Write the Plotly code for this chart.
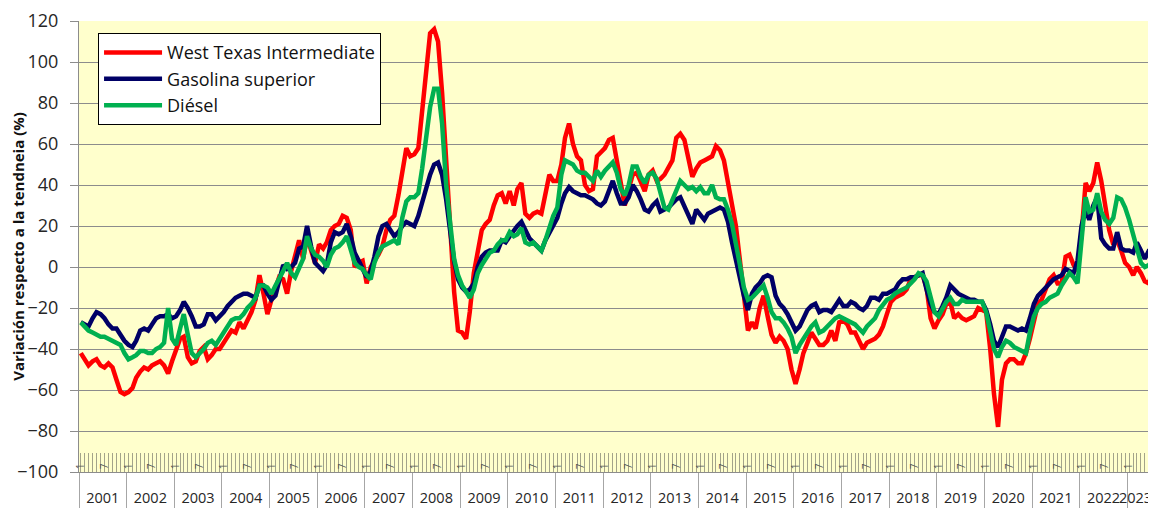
import plotly.graph_objects as go

# ---------------- data (monthly, Jan-2001 .. Jul-2023) ----------------
year_labels = [str(y) for y in range(2001, 2024)]
n_months = 12 * 22 + 7
month_dates = [f"{2001 + i // 12}-{i % 12 + 1:02d}-15" for i in range(n_months)]
month_numbers = [str(i % 12 + 1) for i in range(n_months)]

wti = [
    -42, -45, -48, -46, -45, -48, -49, -47, -49, -55, -61, -62,   # 2001
    -61, -59, -54, -51, -49, -50, -48, -47, -46, -48, -52, -46,   # 2002
    -40, -35, -34, -44, -47, -46, -41, -39, -45, -43, -40, -40,   # 2003
    -37, -34, -31, -32, -27, -30, -26, -22, -16, -4, -13, -23,    # 2004
    -16, -11, -5, -6, -13, -2, 5, 13, 4, 15, 8, 2,                # 2005
    11, 9, 12, 18, 20, 21, 25, 24, 18, 0, 2, 3,                   # 2006
    -8, 0, 3, 6, 10, 18, 23, 25, 35, 45, 58, 54,                  # 2007
    55, 58, 75, 98, 114, 116, 110, 85, 50, 15, -12, -31,          # 2008
    -32, -35, -22, -3, 7, 18, 21, 23, 30, 35, 36, 31,             # 2009
    37, 30, 38, 41, 26, 24, 26, 27, 26, 35, 45, 42,               # 2010
    42, 50, 63, 70, 60, 54, 52, 40, 37, 38, 54, 56,               # 2011
    58, 62, 63, 52, 40, 30, 38, 45, 46, 42, 37, 45,               # 2012
    47, 42, 43, 45, 48, 52, 63, 65, 62, 52, 44, 48,               # 2013
    51, 52, 53, 54, 59, 57, 52, 41, 32, 20, 3, -15,               # 2014
    -31, -27, -30, -20, -14, -24, -33, -37, -34, -36, -40, -50,   # 2015
    -57, -50, -42, -37, -32, -35, -38, -38, -36, -31, -36, -27,   # 2016
    -26, -28, -32, -32, -36, -40, -37, -36, -35, -33, -29, -23,   # 2017
    -17, -15, -14, -13, -11, -6, -5, -4, -4, -10, -25, -30,       # 2018
    -26, -23, -18, -17, -25, -23, -25, -26, -25, -24, -20, -21,   # 2019
    -22, -40, -62, -78, -55, -47, -45, -45, -47, -47, -42, -35,   # 2020
    -27, -18, -16, -11, -6, -4, -8, -8, 5, 6, 1, -2,              # 2021
    16, 41, 37, 41, 51, 42, 30, 18, 11, 13, 8, 2,                 # 2022
    0, -4, 0, -3, -7, -8, -1,                                     # 2023
]

gasolina = [
    -27, -28, -29, -25, -22, -23, -25, -28, -30, -30, -33, -36,   # 2001
    -38, -39, -36, -31, -30, -31, -28, -25, -24, -24, -23, -25,   # 2002
    -24, -21, -17, -20, -24, -29, -29, -28, -23, -23, -26, -24,   # 2003
    -22, -19, -17, -15, -14, -13, -13, -14, -15, -9, -9, -13,     # 2004
    -16, -14, -7, 1, -1, 0, 2, 9, 10, 20, 10, 2,                  # 2005
    0, -2, 1, 12, 17, 16, 17, 21, 15, 7, 3, -1,                   # 2006
    -5, -2, 5, 15, 20, 21, 18, 15, 17, 20, 22, 21,                # 2007
    20, 25, 32, 38, 45, 50, 51, 45, 33, 18, 3, -6,                # 2008
    -10, -12, -11, -8, 0, 5, 7, 8, 8, 8, 13, 12,                  # 2009
    15, 18, 20, 22, 18, 14, 12, 10, 8, 13, 17, 21,                # 2010
    24, 31, 36, 39, 37, 36, 35, 35, 34, 33, 31, 30,               # 2011
    32, 37, 42, 36, 31, 31, 34, 40, 37, 33, 28, 27,               # 2012
    30, 32, 27, 28, 29, 31, 33, 34, 30, 26, 21, 28,               # 2013
    25, 23, 26, 27, 28, 29, 28, 22, 12, 3, -5, -14,               # 2014
    -21, -13, -10, -8, -5, -4, -5, -14, -18, -20, -23, -27,       # 2015
    -31, -29, -25, -21, -19, -18, -22, -21, -21, -22, -19, -16,   # 2016
    -19, -19, -17, -18, -20, -21, -19, -15, -15, -16, -13, -13,   # 2017
    -12, -11, -8, -6, -6, -5, -5, -4, -3, -11, -18, -22,          # 2018
    -23, -19, -15, -9, -11, -13, -14, -15, -16, -16, -17, -17,    # 2019
    -21, -28, -36, -39, -34, -29, -29, -30, -31, -30, -31, -25,   # 2020
    -18, -14, -12, -10, -8, -6, -5, -4, -1, -2, -3, 3,            # 2021
    20, 28, 23, 30, 34, 14, 11, 9, 9, 17, 9, 8,                   # 2022
    8, 7, 12, 8, 4, 8, 9,                                         # 2023
]

diesel = [
    -27, -29, -31, -32, -33, -34, -34, -35, -36, -37, -38, -42,   # 2001
    -45, -44, -43, -41, -41, -42, -42, -40, -39, -37, -20, -35,   # 2002
    -38, -30, -23, -33, -42, -44, -42, -40, -37, -36, -38, -35,   # 2003
    -32, -29, -26, -25, -25, -23, -20, -18, -15, -9, -9, -10,     # 2004
    -13, -9, -6, -2, 2, -3, -5, -1, 4, 15, 9, 6,                  # 2005
    5, 3, 0, 6, 9, 10, 12, 15, 8, 2, 0, -1,                       # 2006
    -4, -6, 2, 7, 10, 11, 12, 13, 11, 24, 32, 34,                 # 2007
    34, 36, 48, 62, 78, 87, 87, 70, 40, 22, 4, -4,                # 2008
    -9, -12, -15, -11, -3, 1, 4, 7, 8, 11, 13, 13,                # 2009
    17, 15, 16, 19, 12, 11, 12, 10, 8, 13, 20, 25,                # 2010
    29, 45, 52, 51, 50, 47, 46, 46, 44, 42, 47, 44,               # 2011
    47, 49, 51, 46, 38, 35, 40, 49, 49, 44, 41, 45,               # 2012
    46, 43, 36, 29, 28, 33, 38, 42, 40, 38, 39, 37,               # 2013
    39, 36, 36, 40, 34, 33, 33, 28, 21, 12, 1, -10,               # 2014
    -16, -15, -13, -11, -9, -15, -22, -25, -25, -27, -30, -34,    # 2015
    -42, -38, -35, -32, -29, -27, -32, -31, -29, -27, -25, -24,   # 2016
    -25, -26, -27, -28, -30, -32, -29, -27, -25, -21, -18, -16,   # 2017
    -15, -13, -12, -11, -10, -8, -6, -3, -4, -7, -15, -22,        # 2018
    -24, -20, -17, -15, -18, -18, -16, -17, -17, -17, -17, -17,   # 2019
    -22, -32, -40, -44, -39, -36, -37, -39, -40, -41, -42, -32,   # 2020
    -24, -20, -18, -17, -15, -14, -13, -9, -6, -3, -5, -8,        # 2021
    13, 34, 27, 28, 36, 27, 23, 21, 24, 34, 33, 29,               # 2022
    23, 15, 9, 2, 0, 1, 3,                                        # 2023
]

series_names = ["West Texas Intermediate", "Gasolina superior", "Diésel"]
series_colors = ["#FF0000", "#000066", "#00B050"]
y_title = "Variación respecto a la tendneia (%)"

# ---------------- derived axis positions ----------------
y_min, y_max = -100, 120
band_top = -90          # month-number band sits between -100 and -90
x_start, x_end = "2001-01-01", "2023-08-01"
year_bounds = [f"{y}-01-01" for y in range(2001, 2024)]
year_centers = [f"{y}-07-02" for y in range(2001, 2023)] + ["2023-03-05"]
half_year_ticks = [d for d, m in zip(month_dates, month_numbers) if m in ("1", "7")]
half_year_text = [m for m in month_numbers if m in ("1", "7")]

FONT = "'Open Sans', Arial, sans-serif"

fig = go.Figure()
for i, (name, vals, col) in enumerate(zip(series_names, [wti, gasolina, diesel], series_colors)):
    fig.add_trace(go.Scatter(
        x=month_dates, y=vals, name=name, mode="lines",
        line=dict(color=col, width=4.5), legendgroup=f"g{i}",
    ))

# helper (empty) trace so the year axis is drawn
fig.add_trace(go.Scatter(x=[], y=[], xaxis="x2", showlegend=False, hoverinfo="skip"))

# The page body adds an 8px margin around the figure, so the figure is
# sized 8px smaller and its left/top margins reduced by 8px.
fig.update_layout(
    width=1148, height=500,
    autosize=False,
    margin=dict(l=71, r=1, t=13, b=36, autoexpand=False),
    paper_bgcolor="white",
    plot_bgcolor="#FFFFCC",
    font=dict(family=FONT, color="#262626"),
    showlegend=True,
    legend=dict(
        x=0.0177, y=0.973, xanchor="left", yanchor="top",
        bgcolor="white", bordercolor="black", borderwidth=1,
        font=dict(size=18, color="#111111"),
        tracegroupgap=0, itemwidth=58,
    ),
    # month numbers: an axis line placed at -90, labels/ticks hanging down into the band
    xaxis=dict(
        type="date", range=[x_start, x_end], automargin=False,
        anchor="free", position=(band_top - y_min) / (y_max - y_min), side="bottom",
        tickmode="array", tickvals=half_year_ticks, ticktext=half_year_text,
        tickangle=-90, ticks="", ticklabelstandoff=9,
        tickfont=dict(size=10, color="#555555"),
        showgrid=False, zeroline=False, showline=False,
        minor=dict(tickmode="array", tickvals=month_dates, ticks="outside",
                   ticklen=19, tickcolor="#A3A38A", tickwidth=1, showgrid=False),
    ),
    # years with dividers, below the plot
    xaxis2=dict(
        type="date", range=[x_start, x_end], overlaying="x", anchor="y", side="bottom",
        automargin=False, ticklabeloverflow="allow", tickangle=0,
        tickmode="array", tickvals=year_centers, ticktext=year_labels,
        ticks="outside", ticklen=13, tickcolor="rgba(0,0,0,0)",
        tickfont=dict(size=14.5, color="#262626"),
        showgrid=False, zeroline=False,
        showline=True, linecolor="#8C8C8C", linewidth=1,
        minor=dict(tickmode="array", tickvals=year_bounds, ticks="outside",
                   ticklen=36, tickcolor="#A6A6A6", tickwidth=1, showgrid=False),
    ),
    yaxis=dict(
        range=[y_min, y_max], dtick=20, tick0=0, automargin=False,
        showgrid=True, gridcolor="#8C8C8C", gridwidth=1,
        zeroline=False, showline=True, linecolor="#8C8C8C", linewidth=1,
        ticks="outside", ticklen=8, tickcolor="#8C8C8C",
        ticklabelstandoff=8,
        tickfont=dict(size=18, color="#262626"),
        title=dict(text=f"<b>{y_title}</b>", font=dict(size=15, color="#111111"), standoff=2),
    ),
)

fig.write_html("out.html")
